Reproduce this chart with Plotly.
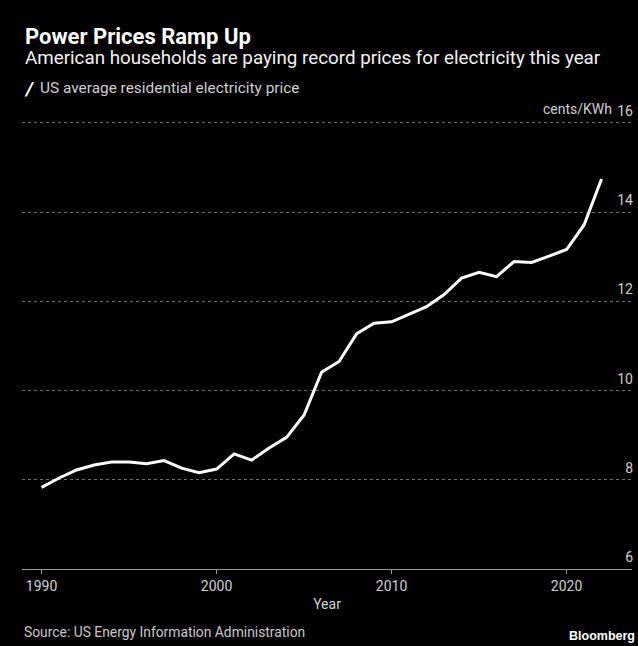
import plotly.graph_objects as go

# US average residential electricity price, cents per kWh
years = list(range(1990, 2023))
price = [7.83, 8.04, 8.22, 8.33, 8.40, 8.40, 8.36, 8.43, 8.26, 8.16,
         8.24, 8.58, 8.44, 8.71, 8.95, 9.45, 10.41, 10.65, 11.27, 11.51,
         11.54, 11.71, 11.88, 12.15, 12.52, 12.65, 12.55, 12.89, 12.87, 13.01,
         13.16, 13.71, 14.74]

y_ticks = [6, 8, 10, 12, 14, 16]
y_ticktext = ["6", "8", "10", "12", "14", "16"]
y_unit = "cents/KWh"
x_ticks = [1990, 2000, 2010, 2020]

FONT = "Roboto, sans-serif"

W, H = 638, 646
L, R, T, B = 22, 6, 96, 77
plot_h = H - T - B


def py(px):
    """Convert a pixel row (from top) to paper y."""
    return (H - B - px) / plot_h


def px_x(px):
    return (px - L) / (W - L - R)


fig = go.Figure()
fig.add_trace(go.Scatter(
    x=years, y=price, mode="lines",
    line=dict(color="white", width=3),
    name="US average residential electricity price",
    showlegend=False,
))

fig.update_layout(
    width=W, height=H,
    margin=dict(l=L, r=R, t=T, b=B),
    paper_bgcolor="black", plot_bgcolor="black",
    font=dict(family=FONT, color="#cfcfcf", size=14),
    xaxis=dict(
        range=[1988.88, 2023.74],
        tickvals=x_ticks,
        showgrid=False, zeroline=False,
        showline=True, linecolor="#9a9a9a", linewidth=1,
        ticks="outside", ticklen=4, tickcolor="#9a9a9a",
        tickfont=dict(size=14, color="#cfcfcf"),
        title=dict(text="Year", font=dict(size=14, color="#cfcfcf"), standoff=6),
    ),
    yaxis=dict(
        range=[6, 16.6],
        side="right",
        tickvals=y_ticks, ticktext=y_ticktext,
        ticklabelposition="inside top",
        ticklabelstandoff=-4,
        ticklabelshift=-2,
        ticks="",
        showgrid=True, gridcolor="#707070", griddash="dot", gridwidth=1,
        zeroline=False, showline=False,
        tickfont=dict(size=14, color="#cfcfcf"),
    ),
    annotations=[
        dict(text="<b>Power Prices Ramp Up</b>", x=px_x(23), y=py(37),
             xref="paper", yref="paper", xanchor="left", yanchor="middle",
             showarrow=False, font=dict(size=22, color="white")),
        dict(text="American households are paying record prices for electricity this year",
             x=px_x(23), y=py(58), xref="paper", yref="paper",
             xanchor="left", yanchor="middle", showarrow=False,
             font=dict(size=18.8, color="#f2f2f2")),
        dict(text="<b><i>/</i></b>", x=px_x(22), y=py(88), xref="paper", yref="paper",
             xanchor="left", yanchor="middle", showarrow=False,
             font=dict(size=19, color="white")),
        dict(text="US average residential electricity price",
             x=px_x(38), y=py(88), xref="paper", yref="paper",
             xanchor="left", yanchor="middle", showarrow=False,
             font=dict(size=15.4, color="#cfcfcf")),
        # unit label sitting beside the top y tick label
        dict(text=y_unit, x=px_x(614), y=y_ticks[-1], xref="paper", yref="y",
             xanchor="right", yanchor="bottom", yshift=4, showarrow=False,
             font=dict(size=14, color="#cfcfcf")),
        dict(text="Source: US Energy Information Administration",
             x=px_x(22), y=py(632), xref="paper", yref="paper",
             xanchor="left", yanchor="middle", showarrow=False,
             font=dict(size=13.85, color="#c8c8c8")),
        dict(text="<b>Bloomberg</b>", x=px_x(567), y=py(636), xref="paper", yref="paper",
             xanchor="left", yanchor="middle", showarrow=False,
             font=dict(family="Liberation Sans, Arial, sans-serif", size=12.5, color="white")),
    ],
)

fig.write_html("out.html")
